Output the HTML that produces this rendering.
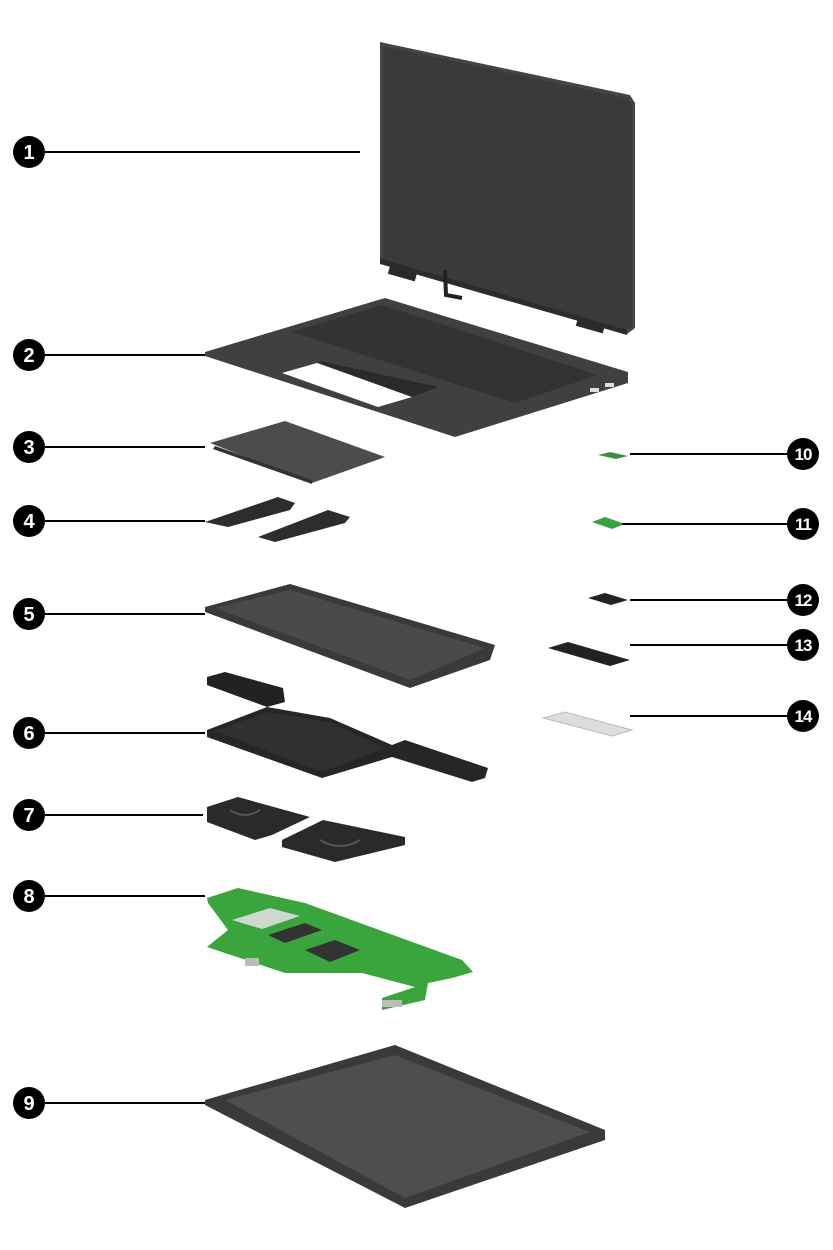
<!DOCTYPE html>
<html><head><meta charset="utf-8"><style>
html,body{margin:0;padding:0;background:#fff;}
svg{display:block}
text{font-family:"Liberation Sans",sans-serif;font-weight:bold;fill:#fff;text-anchor:middle}
</style></head><body>
<svg width="833" height="1250" viewBox="0 0 833 1250" xmlns="http://www.w3.org/2000/svg">
<!-- Display -->
<polygon points="380,42 630,95 635,103 635,328 627,334 380,262" fill="#454545"/>
<polygon points="383,46 627,98 632,106 632,326 627,330 383,258" fill="#3a3a3a"/>
<polygon points="380,258 627,330 627,335 380,264" fill="#2c2c2c"/>
<rect x="390" y="266" width="28" height="8" fill="#2a2a2a" transform="rotate(16 390 266)"/>
<path d="M445,270 L446,295 L462,298" stroke="#222" stroke-width="4" fill="none"/>
<rect x="578" y="318" width="28" height="8" fill="#2a2a2a" transform="rotate(16 578 318)"/>
<!-- Keyboard base -->
<polygon points="205,352 385,298 628,372 628,383 455,437 205,356" fill="#404040"/>
<polygon points="292,332 382,305 598,375 515,403" fill="#333"/>
<polygon points="282,373 317,363 412,397 378,407" fill="#fff"/>
<polygon points="317,362 320,361 438,387 412,397" fill="#2a2a2a"/>
<rect x="590" y="388" width="9" height="4" fill="#ddd"/><rect x="605" y="383" width="9" height="4" fill="#ddd"/>
<!-- Touchpad -->
<polygon points="210,443 285,421 385,457 312,483" fill="#4c4c4c"/>
<polygon points="215,446 312,480 312,484 213,449" fill="#333"/>
<!-- Speakers -->
<polygon points="205,522 278,497 295,503 290,510 228,527" fill="#2d2d2d"/>
<polygon points="258,537 328,510 350,517 345,523 275,542" fill="#2d2d2d"/>
<!-- Battery -->
<polygon points="205,607 290,584 495,645 490,660 410,688 205,612" fill="#3a3a3a"/>
<polygon points="215,608 290,590 485,648 410,680" fill="#4a4a4a"/>
<!-- Chassis frame -->
<polygon points="207,677 225,672 283,688 285,702 267,707 207,685" fill="#222"/>
<polygon points="207,730 267,707 330,718 392,745 405,740 488,768 485,778 472,782 392,757 322,778 207,737" fill="#262626"/>
<polygon points="215,731 268,712 330,722 385,748 322,772" fill="#303030"/>
<!-- Fans -->
<polygon points="207,807 238,797 310,817 272,835 255,840 207,822" fill="#2a2a2a"/>
<polygon points="282,840 323,820 405,837 405,845 335,862 282,847" fill="#2a2a2a"/>
<path d="M230,810 q15,10 30,0" stroke="#555" stroke-width="2" fill="none"/>
<path d="M320,840 q20,12 40,0" stroke="#555" stroke-width="2" fill="none"/>
<!-- System board -->
<polygon points="207,898 238,888 305,903 462,960 473,972 452,978 428,983 425,1000 382,1010 382,998 415,987 362,973 285,973 207,947 228,930 208,903" fill="#3aa53c"/>
<polygon points="232,920 270,908 300,916 262,929" fill="#cfd8cf"/>
<polygon points="268,935 305,923 322,930 285,943" fill="#333"/>
<polygon points="305,950 335,940 360,950 330,962" fill="#333"/>
<rect x="245" y="958" width="14" height="8" fill="#bbb"/><rect x="382" y="1000" width="20" height="7" fill="#bbb"/>
<!-- Bottom cover -->
<polygon points="205,1100 395,1045 605,1130 605,1140 405,1208 205,1105" fill="#3a3a3a"/>
<polygon points="225,1100 395,1055 590,1132 405,1198" fill="#4e4e4e"/>
<!-- Right small parts -->
<polygon points="598,455 610,452 628,456 616,459" fill="#3a8f3a"/>
<polygon points="592,522 605,517 625,524 612,529" fill="#3aa040"/>
<polygon points="588,598 605,593 628,600 611,605" fill="#222"/>
<polygon points="548,648 568,642 630,660 610,666" fill="#222"/>
<polygon points="543,718 565,712 632,730 612,736" fill="#ddd" stroke="#bbb"/>
<!-- Leader lines -->
<g stroke="#000" stroke-width="2">
<line x1="45" y1="152" x2="360" y2="152"/>
<line x1="45" y1="355" x2="205" y2="355"/>
<line x1="45" y1="447" x2="205" y2="447"/>
<line x1="45" y1="521" x2="205" y2="521"/>
<line x1="45" y1="614" x2="205" y2="614"/>
<line x1="45" y1="733" x2="205" y2="733"/>
<line x1="45" y1="815" x2="203" y2="815"/>
<line x1="45" y1="896" x2="205" y2="896"/>
<line x1="45" y1="1103" x2="205" y2="1103"/>
<line x1="630" y1="454" x2="787" y2="454"/>
<line x1="622" y1="524" x2="787" y2="524"/>
<line x1="630" y1="600" x2="787" y2="600"/>
<line x1="630" y1="645" x2="787" y2="645"/>
<line x1="630" y1="716" x2="787" y2="716"/>
</g>
<!-- Callouts -->
<g fill="#000">
<circle cx="29" cy="152" r="16"/><circle cx="29" cy="355" r="16"/><circle cx="29" cy="447" r="16"/>
<circle cx="29" cy="521" r="16"/><circle cx="29" cy="614" r="16"/><circle cx="29" cy="733" r="16"/>
<circle cx="29" cy="815" r="16"/><circle cx="29" cy="896" r="16"/><circle cx="29" cy="1103" r="16"/>
<circle cx="803" cy="454" r="16"/><circle cx="803" cy="524" r="16"/><circle cx="803" cy="600" r="16"/>
<circle cx="803" cy="645" r="16"/><circle cx="803" cy="716" r="16"/>
</g>
<g font-size="20">
<text x="29" y="159">1</text><text x="29" y="362">2</text><text x="29" y="454">3</text>
<text x="29" y="528">4</text><text x="29" y="621">5</text><text x="29" y="740">6</text>
<text x="29" y="822">7</text><text x="29" y="903">8</text><text x="29" y="1110">9</text>
</g>
<g font-size="17" letter-spacing="-1">
<text x="803" y="460">10</text><text x="803" y="530">11</text><text x="803" y="606">12</text>
<text x="803" y="651">13</text><text x="803" y="722">14</text>
</g>
</svg>
</body></html>
